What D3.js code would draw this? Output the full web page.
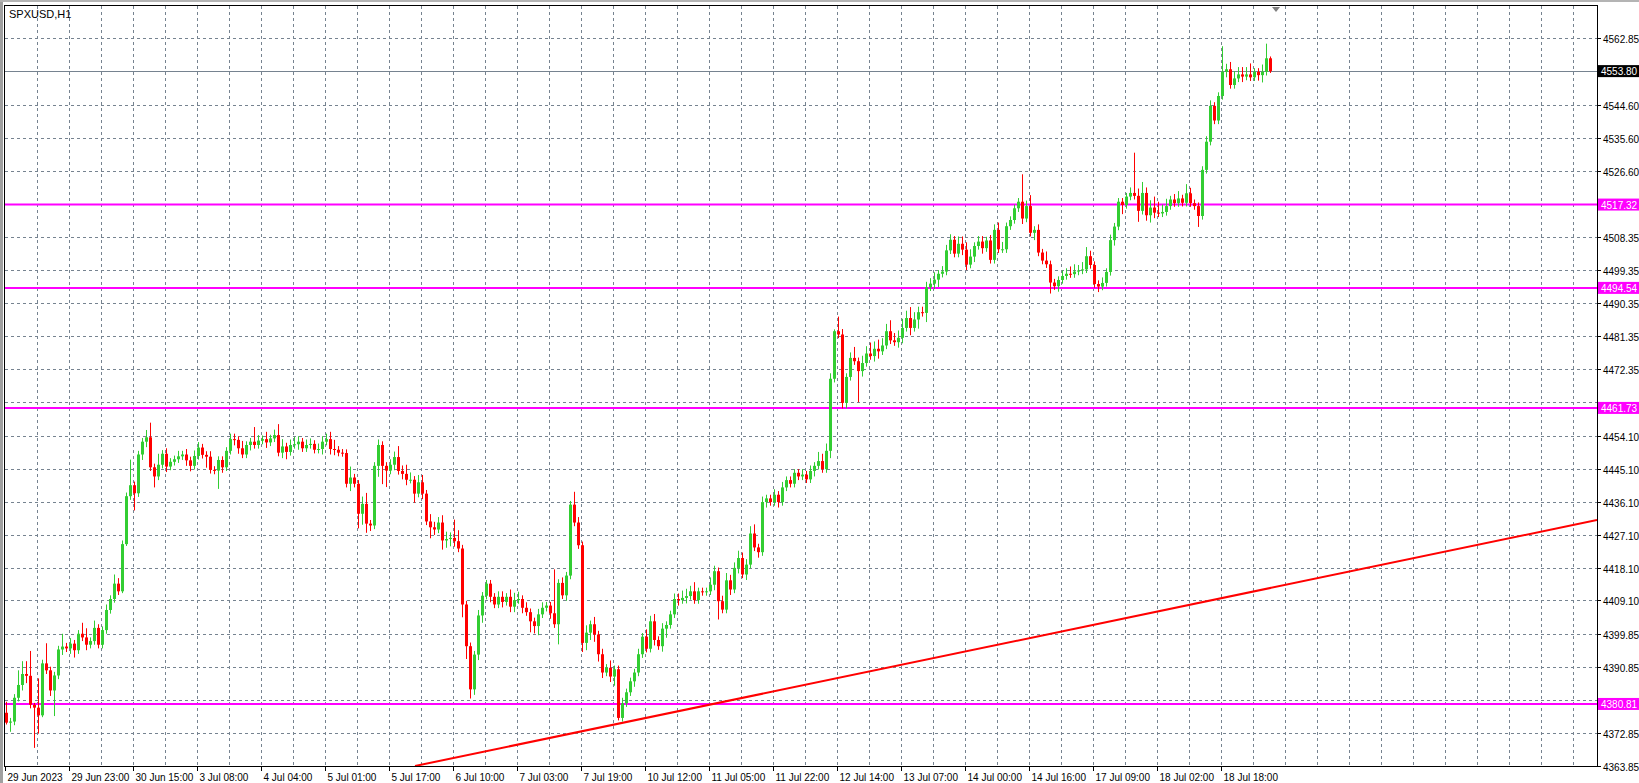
<!DOCTYPE html>
<html>
<head>
<meta charset="utf-8">
<script src="https://cdn.jsdelivr.net/npm/d3@7"></script>
<style>
  body { margin: 0; background: #fff; }
  svg { display: block; }
  text { font-family: "Liberation Sans", Arial, sans-serif; }
</style>
</head>
<body>
<svg id="chart" width="1639" height="783"></svg>
<script>
// hourly closes
const closes = [
  4375.7,4376,4382.5,4386,4389,4388.5,4380.6,4379.8,4377.7,4391.9,4390,4384.5,4388.6,4395.7,4396.5,4396,4397.3,4395.5,4400,4399,
  4397,4398,4401.6,4397,4401,4406.5,4409.5,4413.7,4411.6,4424.5,4437.6,4440.6,4438.4,4449,4452.5,4453.7,4445.5,4443,4446.2,4449.2,
  4445.7,4447,4447.7,4448.5,4449,4447.4,4445.9,4448.6,4450.9,4448.9,4448.4,4444.8,4444.6,4447.5,4445.5,4450,4453.2,4453,4450.7,4449,
  4451.6,4452.5,4451.6,4452.8,4453.2,4452.3,4453.4,4454.3,4449.5,4451.2,4449.7,4451.6,4451.8,4452.5,4450.7,4451.6,4451.9,4450.3,4450.5,4452.5,
  4453.2,4450.5,4450.3,4449.5,4449.4,4441,4442.7,4441,4432.8,4435.5,4430.1,4429.6,4445.9,4451.6,4445.9,4444.6,4446.2,4448.3,4444.5,4443.7,
  4442.1,4442.1,4438.3,4441.4,4438.3,4430.7,4429.1,4428.5,4430.4,4425.5,4425.9,4426.2,4425.3,4423.3,4408,4396.6,4384.8,4394.3,4405,4410.4,
  4413.7,4410.1,4408,4410.1,4408.7,4410.1,4407.4,4409.2,4409.5,4407.1,4405.9,4403.4,4402.1,4405.3,4407.1,4407.7,4405.6,4402.6,4413.9,4410.5,
  4415.9,4435.3,4430.4,4424.2,4397.5,4400.3,4402.6,4399.8,4394.4,4389.4,4390.7,4388.3,4390.3,4377,4381,4384,4387,4389.4,4394.4,4399.2,
  4395.9,4403.4,4398.3,4396.6,4401.4,4402.4,4405.3,4409.5,4409.2,4409.8,4410.3,4411.6,4409.2,4411.6,4411.4,4411.6,4413.4,4417.1,4408.9,4406.6,
  4414.6,4412.1,4418,4420.7,4416.2,4418.9,4427.4,4423.6,4422.3,4436,4437,4436,4438,4436,4440,4442,4441,4444,4443,4443.5,
  4442.2,4444.5,4445.9,4447.2,4445,4450,4469.7,4482.7,4481.8,4463.1,4470.2,4475.4,4474.5,4471.8,4474,4476.6,4475.9,4477.9,4477.2,4478.8,
  4482.7,4480.2,4479.7,4480.9,4483.6,4486.3,4483.6,4485.9,4487.9,4487.7,4494.7,4495.7,4496.8,4498.4,4499,4504.8,4507.7,4503.9,4506.6,4505,
  4500.9,4503.1,4506,4507.2,4505.4,4507.5,4502.2,4510.4,4505.1,4505.1,4511.4,4513.1,4516.3,4518.1,4513.5,4516.9,4509.6,4510.4,4504.2,4502,
  4501,4496,4495,4496.7,4497.8,4498.4,4498.3,4499,4499.3,4499.6,4503.2,4500.8,4495.6,4494.9,4495.9,4498.9,4507.6,4511.3,4518.1,4517.2,
  4519.5,4520.5,4519.7,4515.6,4520.5,4514.4,4516.5,4515.1,4514.9,4515.3,4516.9,4518.7,4517.7,4519,4517.8,4520.4,4517.7,4516.9,4514.2,4526.8,
  4534.5,4544.3,4540.3,4547,4553.6,4554.3,4550,4551.8,4552.9,4552.3,4552.9,4552.1,4553.6,4552.7,4553.6,4557.3,4553.8
]
const firstOpen = 4378.4

// wick lengths above / below the body, in points
const wickUp = [
  3,1,1,4,3.5,3.5,6.8,0.5,8,1,5.5,1,1,1,3.5,1,1.5,1,1,3,
  2.5,1,2,1,1,1.5,1,2.5,1.5,1,1,7,1,1,1,2,4,1,3,1,
  1.5,1,1,1.5,1,1.5,1,1.5,1.5,1,1,1.5,1,1,1,1,1.5,1.5,1,2,
  1,1,4,1.5,1,2,1,1.5,3,2,1,1.5,2,1.5,1,1.5,1.5,1,1.5,1.5,
  1.5,2,2.5,1,1,1,3,1,1,2,3,1,1,1.5,1,1,1.5,1.5,3,1.5,
  2.5,2,1,2,2,1,2,1.5,1.5,2,2,1.5,5,3,1,1,1,1,1.5,1,
  1,1,1,1.5,1.5,1,2,2,2,1,1.5,1,1,1.5,1.5,1,1,12,1,1.5,
  1,1,3.5,1.5,1,2,1,2,1,1.5,1,2,1,1,1.5,1,1,1,1.5,1,
  2,1.5,2,1,1.5,1,1,1.5,1.5,2,2,1.5,2.5,1,1,1,2,1.5,1,1.5,
  2,1.5,1.5,2,1.5,1.5,2,2.5,1,1.5,1,1,1.5,1,1.5,1,1,1,1,1.5,
  1,1.5,1,2.5,2,2,1.5,0.5,4,1.5,1,1.5,3,1,2,2,3,2,2.5,2,
  2,3,2,2,2.5,2,3,2,1.5,1.5,1.5,1.5,2,1,1.5,1.5,1.5,1,2,2,
  2,2,1,1.5,1.5,1,1.5,1.5,2,2,1,1,1,1,7.5,1.5,3,1,1.5,1,
  2.5,1,1,1,1.5,1.5,2,2,1.5,2,2.5,1.5,1,1,1.5,1,1.5,1,1,1,
  1,1.5,11,2,3,1.5,2,3,3,2,2,1,1.5,2,1,2.5,1.5,1,1,1,
  1.5,1.5,1,1,7,1.5,2,2,2,2,2,3,1,1,2,4,0.5
]
const wickDown = [
  0.5,2.5,1,1,1.5,2,1,11,5,0.5,1,1.5,7,1,1.5,1,1.5,2,1,1,
  1.5,1,1,1,1,1,1,1,1,0.5,0.5,1,4.7,1,1.5,1.5,1,3,1,1,
  1.5,1,1,1,1,1.5,1.5,1,1,1,3,1,1,5,1.5,1,1,1.5,1.5,1,
  1,1.5,1,1,1,1.5,1,1,1,1.5,2,1,1,1.5,1,1,1,1,1,1.5,
  1,1.5,1.5,1,1,1,2,1,4,3,2.5,1.5,1,3,5,4.5,1,1.5,1,1.5,
  1.5,1,2.5,1,1.5,1,3,1.5,1,2.5,2,2,1.5,1,3.5,3.5,2.5,1.5,1.5,2,
  1,1.5,1,1,1.5,1,1.5,1.5,1,1.5,1,3,2,2.5,1,1,1.5,1,5.5,1,
  1.5,1,1,1,2.5,2,2,2,2,1.5,1,1.5,2.5,0.7,1,1,1,1.5,1,1,
  1,1,1.5,1,1.5,2.5,1,1,1.5,1,1.5,1,1,1,1,1,1,1.5,5,1,
  1,1.5,1,1.5,1,1.5,1,1,1.5,1,1.5,1,1,1.5,1,1,1,1,1,1,
  1,1,1.5,1,1,1,2,1,1,1.5,1.5,1,1,8.5,1.5,1,1,1.5,2,1,
  1,1,1,1.5,1.5,1,2,1,2.5,1,2.5,1,1.5,2,1,1,1,1,1,1.5,
  1.5,1,1.5,1,1.5,1,1,1,1,1,1,1,1,1,1.5,1,1,2,1,1,
  1,3,1,1.5,1,1,1,1,1,1,1,1,1,1.5,1,1,1,1.5,1,2.5,
  1,1,1,3,1,1.5,2,1.5,1,1,1,1,1,1,1,1,1,1,3,1,
  1,1,1,1,1,1.5,1,1,1,1.5,1,1,1,1.5,2,1,0.5
]

const timeLabels = ['29 Jun 2023','29 Jun 23:00','30 Jun 15:00','3 Jul 08:00','4 Jul 04:00','5 Jul 01:00',
  '5 Jul 17:00','6 Jul 10:00','7 Jul 03:00','7 Jul 19:00','10 Jul 12:00','11 Jul 05:00','11 Jul 22:00',
  '12 Jul 14:00','13 Jul 07:00','14 Jul 00:00','14 Jul 16:00','17 Jul 09:00','18 Jul 02:00','18 Jul 18:00']
const barsPerLabel = 16

const priceTicks = [4562.85,4544.60,4535.60,4526.60,4508.35,4499.35,4490.35,4481.35,4472.35,4454.10,
  4445.10,4436.10,4427.10,4418.10,4409.10,4399.85,4390.85,4372.85,4363.85]
const hiddenGrid = [4463.35,4381.85]
const levels = [4517.32,4494.54,4461.73,4380.81]
const lastPrice = 4553.80
const trend = [[102.25,4363.85],[397.75,4431.1]]

let plot = { left: 5, top: 6, right: 1597, bottom: 766 }

let x = d3.scaleLinear().domain([0, 1]).range([6, 10])
let y = d3.scaleLinear().domain([4363.85, 4562.85]).range([766, 38])

let bars = closes.map((c, i) => {
  let o = i === 0 ? firstOpen : closes[i - 1]
  return { i, o, c, h: Math.max(o, c) + wickUp[i], l: Math.min(o, c) - wickDown[i] }
})

let svg = d3.select('#chart')

// window edges
svg.append('rect').attr('x', 0).attr('y', 0).attr('width', 3).attr('height', 783).attr('fill', '#a0a0a0')
svg.append('rect').attr('x', 0).attr('y', 0).attr('width', 1639).attr('height', 2).attr('fill', '#b4b4b4')

svg.append('clipPath').attr('id', 'plotclip').append('rect')
  .attr('x', plot.left).attr('y', plot.top)
  .attr('width', plot.right - plot.left).attr('height', plot.bottom - plot.top)

let g = svg.append('g').attr('clip-path', 'url(#plotclip)')

// grid
let gridCol = '#768390'
d3.range(8, 400, 8).forEach(k => {
  let gx = Math.round(x(k)) - 0.5
  g.append('line').attr('x1', gx).attr('x2', gx).attr('y1', plot.top).attr('y2', plot.bottom)
    .attr('stroke', gridCol).attr('stroke-dasharray', '3,3')
})
priceTicks.concat(hiddenGrid).forEach(p => {
  let gy = Math.round(y(p)) + 0.5
  g.append('line').attr('x1', plot.left).attr('x2', plot.right).attr('y1', gy).attr('y2', gy)
    .attr('stroke', gridCol).attr('stroke-dasharray', '3,3')
})

// last price line
g.append('line').attr('x1', plot.left).attr('x2', plot.right)
  .attr('y1', Math.round(y(lastPrice)) + 0.5).attr('y2', Math.round(y(lastPrice)) + 0.5)
  .attr('stroke', '#768390')

// horizontal levels
levels.forEach(p => {
  g.append('line').attr('x1', plot.left).attr('x2', plot.right)
    .attr('y1', y(p)).attr('y2', y(p)).attr('stroke', '#ff00ff').attr('stroke-width', 2)
})

// trendline
g.append('line')
  .attr('x1', x(trend[0][0])).attr('y1', y(trend[0][1]))
  .attr('x2', x(trend[1][0])).attr('y2', y(trend[1][1]))
  .attr('stroke', '#ff0000').attr('stroke-width', 2)

// candles
let candle = g.selectAll('g.c').data(bars).enter().append('g')
candle.append('line')
  .attr('x1', d => Math.round(x(d.i)) + 0.5).attr('x2', d => Math.round(x(d.i)) + 0.5)
  .attr('y1', d => y(d.h)).attr('y2', d => y(d.l))
  .attr('stroke', d => d.c >= d.o ? '#32cd32' : '#ff0000')
candle.append('rect')
  .attr('x', d => Math.round(x(d.i)) - 1)
  .attr('y', d => y(Math.max(d.o, d.c)))
  .attr('width', 3)
  .attr('height', d => Math.max(1, Math.abs(y(d.o) - y(d.c))))
  .attr('fill', d => d.c >= d.o ? '#32cd32' : '#ff0000')

// frame
svg.append('rect').attr('x', plot.left - 0.5).attr('y', plot.top - 0.5)
  .attr('width', plot.right - plot.left + 1).attr('height', plot.bottom - plot.top + 1)
  .attr('fill', 'none').attr('stroke', '#000')

// chart shift marker
svg.append('path').attr('d', 'M1272,7 L1280,7 L1276,12 Z').attr('fill', '#808080')

svg.append('text').attr('x', 9).attr('y', 18).attr('font-size', 11).text('SPXUSD,H1')

// price axis
priceTicks.forEach(p => {
  let py = Math.round(y(p)) + 0.5
  svg.append('line').attr('x1', plot.right).attr('x2', plot.right + 4).attr('y1', py).attr('y2', py).attr('stroke', '#000')
  svg.append('text').attr('x', plot.right + 6).attr('y', py + 4).attr('font-size', 10).text(p.toFixed(2))
})

function priceTag(p, bg) {
  let py = y(p)
  svg.append('rect').attr('x', plot.right + 1).attr('y', py - 6).attr('width', 41).attr('height', 12).attr('fill', bg)
  svg.append('text').attr('x', plot.right + 4).attr('y', py + 4).attr('font-size', 10).attr('fill', '#fff').text(p.toFixed(2))
}
levels.forEach(p => priceTag(p, '#ff00ff'))
priceTag(lastPrice, '#000')

// time axis
timeLabels.forEach((t, k) => {
  let tx = Math.round(x(k * barsPerLabel)) - 0.5
  if (k === 0) tx = plot.left + 0.5
  svg.append('line').attr('x1', tx).attr('x2', tx).attr('y1', plot.bottom).attr('y2', plot.bottom + 5).attr('stroke', '#000')
  svg.append('text').attr('x', tx + 2).attr('y', 781).attr('font-size', 10).text(t)
})
</script>
</body>
</html>
